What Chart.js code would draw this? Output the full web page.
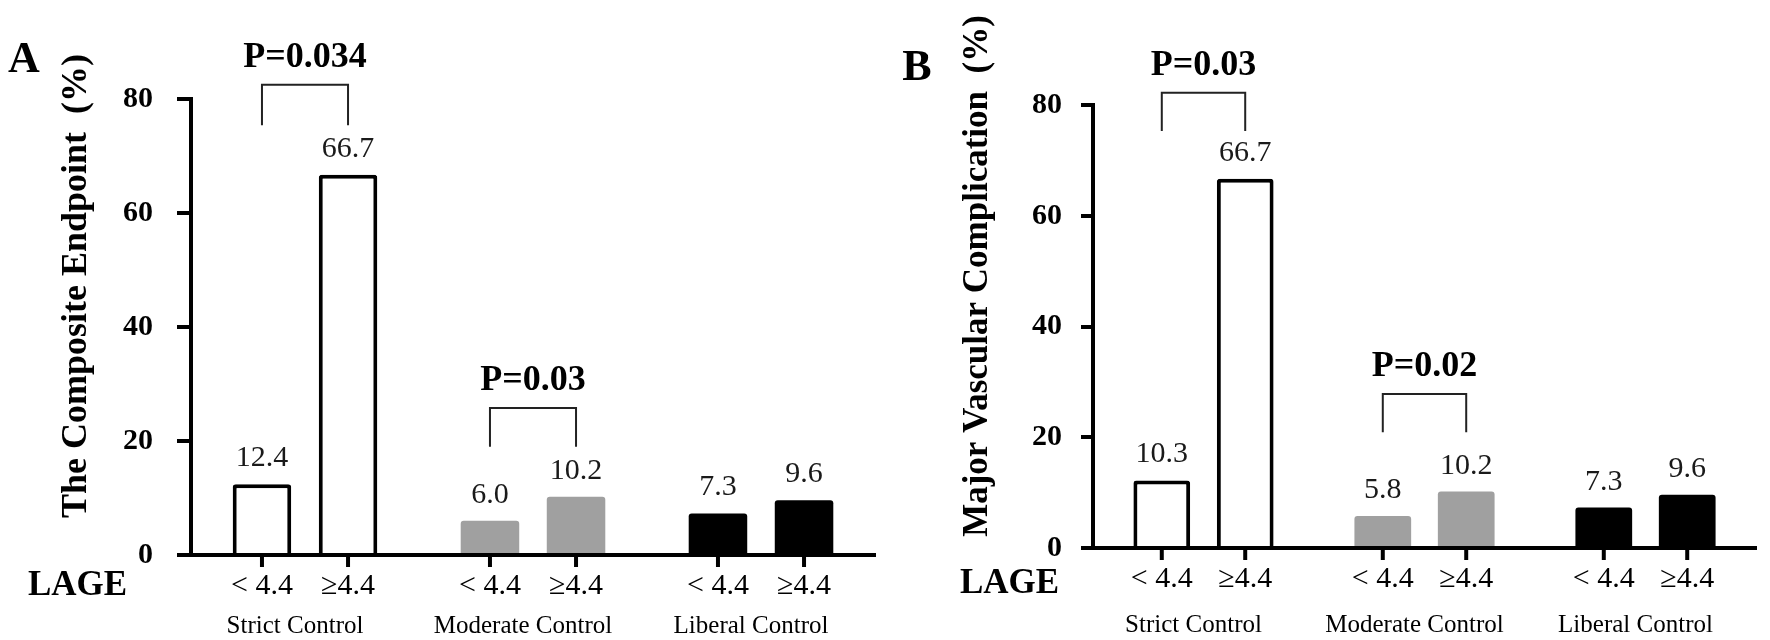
<!DOCTYPE html>
<html>
<head>
<meta charset="utf-8">
<script src="https://cdn.jsdelivr.net/npm/chart.js@4.4.1/dist/chart.umd.min.js"></script>
<style>
  html, body { margin: 0; padding: 0; background: #fff; }
  #wrap { position: relative; width: 1770px; height: 640px; }
  .panel { position: absolute; top: 0; width: 885px; height: 640px; }
  #panelA { left: 0; }
  #panelB { left: 885px; }
</style>
</head>
<body>
<div id="wrap">
  <div class="panel" id="panelA"><canvas id="chartA" width="885" height="640"></canvas></div>
  <div class="panel" id="panelB"><canvas id="chartB" width="885" height="640"></canvas></div>
</div>
<script>
// ----------------- Datos -----------------

const groups = ['Strict Control', 'Moderate Control', 'Liberal Control'];
const lageLabels = ['< 4.4', '≥4.4'];
const yTicks = [0, 20, 40, 60, 80];

// Panel A: The Composite Endpoint (%)
const lowA = [12.4, 6.0, 7.3];
const highA = [66.7, 10.2, 9.6];
const lowTextA = ['12.4', '6.0', '7.3'];
const highTextA = ['66.7', '10.2', '9.6'];
const pValuesA = ['P=0.034', 'P=0.03'];

// Panel B: Major Vascular Complication (%)
// (the first bar is drawn taller than its printed 10.3 in the figure)
const lowB = [12.2, 5.8, 7.3];
const highB = [66.7, 10.2, 9.6];
const lowTextB = ['10.3', '5.8', '7.3'];
const highTextB = ['66.7', '10.2', '9.6'];
const pValuesB = ['P=0.03', 'P=0.02'];

// ----------------- Estilo -----------------

const SERIF = "'Liberation Serif', 'Times New Roman', serif";
const fillColors = ['#ffffff', '#a0a0a0', '#000000'];
const edgeColors = ['#000000', '#a0a0a0', '#000000'];
const edgeWidths = [4, 0, 0];

// ----------------- Plugin de textos -----------------

const panelText = {
  id: 'panelText',
  afterDraw(chart, args, o) {
    const ctx = chart.ctx;
    const area = chart.chartArea;
    const xs = chart.scales.x;
    const ys = chart.scales.y;
    const metas = [chart.getDatasetMeta(0), chart.getDatasetMeta(1)];

    ctx.save();
    ctx.fillStyle = '#000';
    ctx.textBaseline = 'alphabetic';

    // letra del panel
    ctx.textAlign = 'center';
    ctx.font = `bold 44px ${SERIF}`;
    ctx.fillText(o.letter, o.letterX, o.letterY);

    // titulo eje y
    ctx.save();
    ctx.translate(o.titleX, o.titleY);
    ctx.rotate(-Math.PI / 2);
    ctx.font = `bold ${o.titleSize}px ${SERIF}`;
    ctx.fillText(o.title, 0, 0);
    ctx.restore();

    // LAGE
    ctx.textAlign = 'left';
    ctx.font = `bold 35px ${SERIF}`;
    ctx.fillText('LAGE', o.lageX, o.lageY);

    // marcas, subetiquetas y valores
    ctx.textAlign = 'center';
    metas.forEach((meta, d) => {
      meta.data.forEach((bar, i) => {
        ctx.strokeStyle = '#000';
        ctx.lineWidth = 4;
        ctx.beginPath();
        ctx.moveTo(bar.x, area.bottom);
        ctx.lineTo(bar.x, area.bottom + 12);
        ctx.stroke();

        ctx.fillStyle = '#000';
        ctx.font = `30px ${SERIF}`;
        ctx.fillText(lageLabels[d], bar.x, o.subY);

        ctx.fillStyle = '#1a1a1a';
        ctx.font = `30px ${SERIF}`;
        ctx.fillText(o.valueTexts[d][i], bar.x, bar.y - 18);
      });
    });

    // nombres de grupo
    ctx.fillStyle = '#000';
    ctx.font = `25px ${SERIF}`;
    groups.forEach((g, i) => {
      ctx.fillText(g, xs.getPixelForValue(i) - 10, o.groupY);
    });

    // corchetes con P
    o.brackets.forEach((b, k) => {
      const x1 = metas[0].data[b.group].x;
      const x2 = metas[1].data[b.group].x;
      const yTop = ys.getPixelForValue(b.top);
      const yBot = ys.getPixelForValue(b.bottom);
      ctx.strokeStyle = '#222';
      ctx.lineWidth = 2;
      ctx.beginPath();
      ctx.moveTo(x1, yBot);
      ctx.lineTo(x1, yTop);
      ctx.lineTo(x2, yTop);
      ctx.lineTo(x2, yBot);
      ctx.stroke();
      ctx.fillStyle = '#000';
      ctx.font = `bold 36px ${SERIF}`;
      ctx.fillText(o.pValues[k], (x1 + x2) / 2, yTop - 18);
    });

    ctx.restore();
  }
};

// ----------------- Constructor de graficos -----------------

function buildChart(canvasId, low, high, cfg) {
  const ctx = document.getElementById(canvasId).getContext('2d');
  const barStyle = {
    backgroundColor: fillColors,
    borderColor: edgeColors,
    borderWidth: edgeWidths,
    borderRadius: 3,
    borderSkipped: 'start',
    categoryPercentage: 0.755,
    barPercentage: 0.68
  };

  return new Chart(ctx, {
    type: 'bar',
    data: {
      labels: groups,
      datasets: [
        Object.assign({ label: lageLabels[0], data: low }, barStyle),
        Object.assign({ label: lageLabels[1], data: high }, barStyle)
      ]
    },
    options: {
      responsive: false,
      animation: false,
      layout: {
        padding: { left: 0, top: cfg.padTop, right: cfg.padRight, bottom: 0 }
      },
      plugins: {
        legend: { display: false },
        tooltip: { enabled: false },
        panelText: cfg.text
      },
      scales: {
        x: {
          grid: { display: false },
          border: { display: true, color: '#000', width: 4 },
          ticks: { display: false },
          afterFit: (s) => { s.height = cfg.xHeight; }
        },
        y: {
          min: 0,
          max: 80,
          afterBuildTicks: (s) => { s.ticks = yTicks.map(v => ({ value: v })); },
          grid: {
            drawOnChartArea: false,
            drawTicks: true,
            tickLength: cfg.tickLen,
            tickWidth: 4,
            tickColor: '#000',
            color: '#000',
            lineWidth: 4
          },
          border: { display: true, color: '#000', width: 4 },
          ticks: {
            padding: cfg.tickPad,
            color: '#000',
            font: { family: SERIF, size: 30, weight: 'bold' }
          },
          afterFit: (s) => { s.width = cfg.yWidth; }
        }
      }
    },
    plugins: [panelText]
  });
}

// ----------------- Init -----------------

buildChart('chartA', lowA, highA, {
  padTop: 99, padRight: 10, xHeight: 85, yWidth: 191, tickLen: 14, tickPad: 24,
  text: {
    letter: 'A', letterX: 24, letterY: 72,
    title: 'The Composite Endpoint  (%)', titleX: 86, titleY: 286, titleSize: 36,
    lageX: 28, lageY: 595,
    subY: 594, groupY: 633,
    valueTexts: [lowTextA, highTextA],
    pValues: pValuesA,
    brackets: [
      { group: 0, top: 82.5, bottom: 75.4 },
      { group: 1, top: 25.8, bottom: 19.0 }
    ]
  }
});

buildChart('chartB', lowB, highB, {
  padTop: 105, padRight: 14, xHeight: 92, yWidth: 208, tickLen: 12, tickPad: 19,
  text: {
    letter: 'B', letterX: 32, letterY: 80,
    title: 'Major Vascular Complication  (%)', titleX: 102, titleY: 276, titleSize: 35,
    lageX: 75, lageY: 593,
    subY: 587, groupY: 632,
    valueTexts: [lowTextB, highTextB],
    pValues: pValuesB,
    brackets: [
      { group: 0, top: 82.2, bottom: 75.3 },
      { group: 1, top: 27.8, bottom: 20.9 }
    ]
  }
});
</script>
</body>
</html>
